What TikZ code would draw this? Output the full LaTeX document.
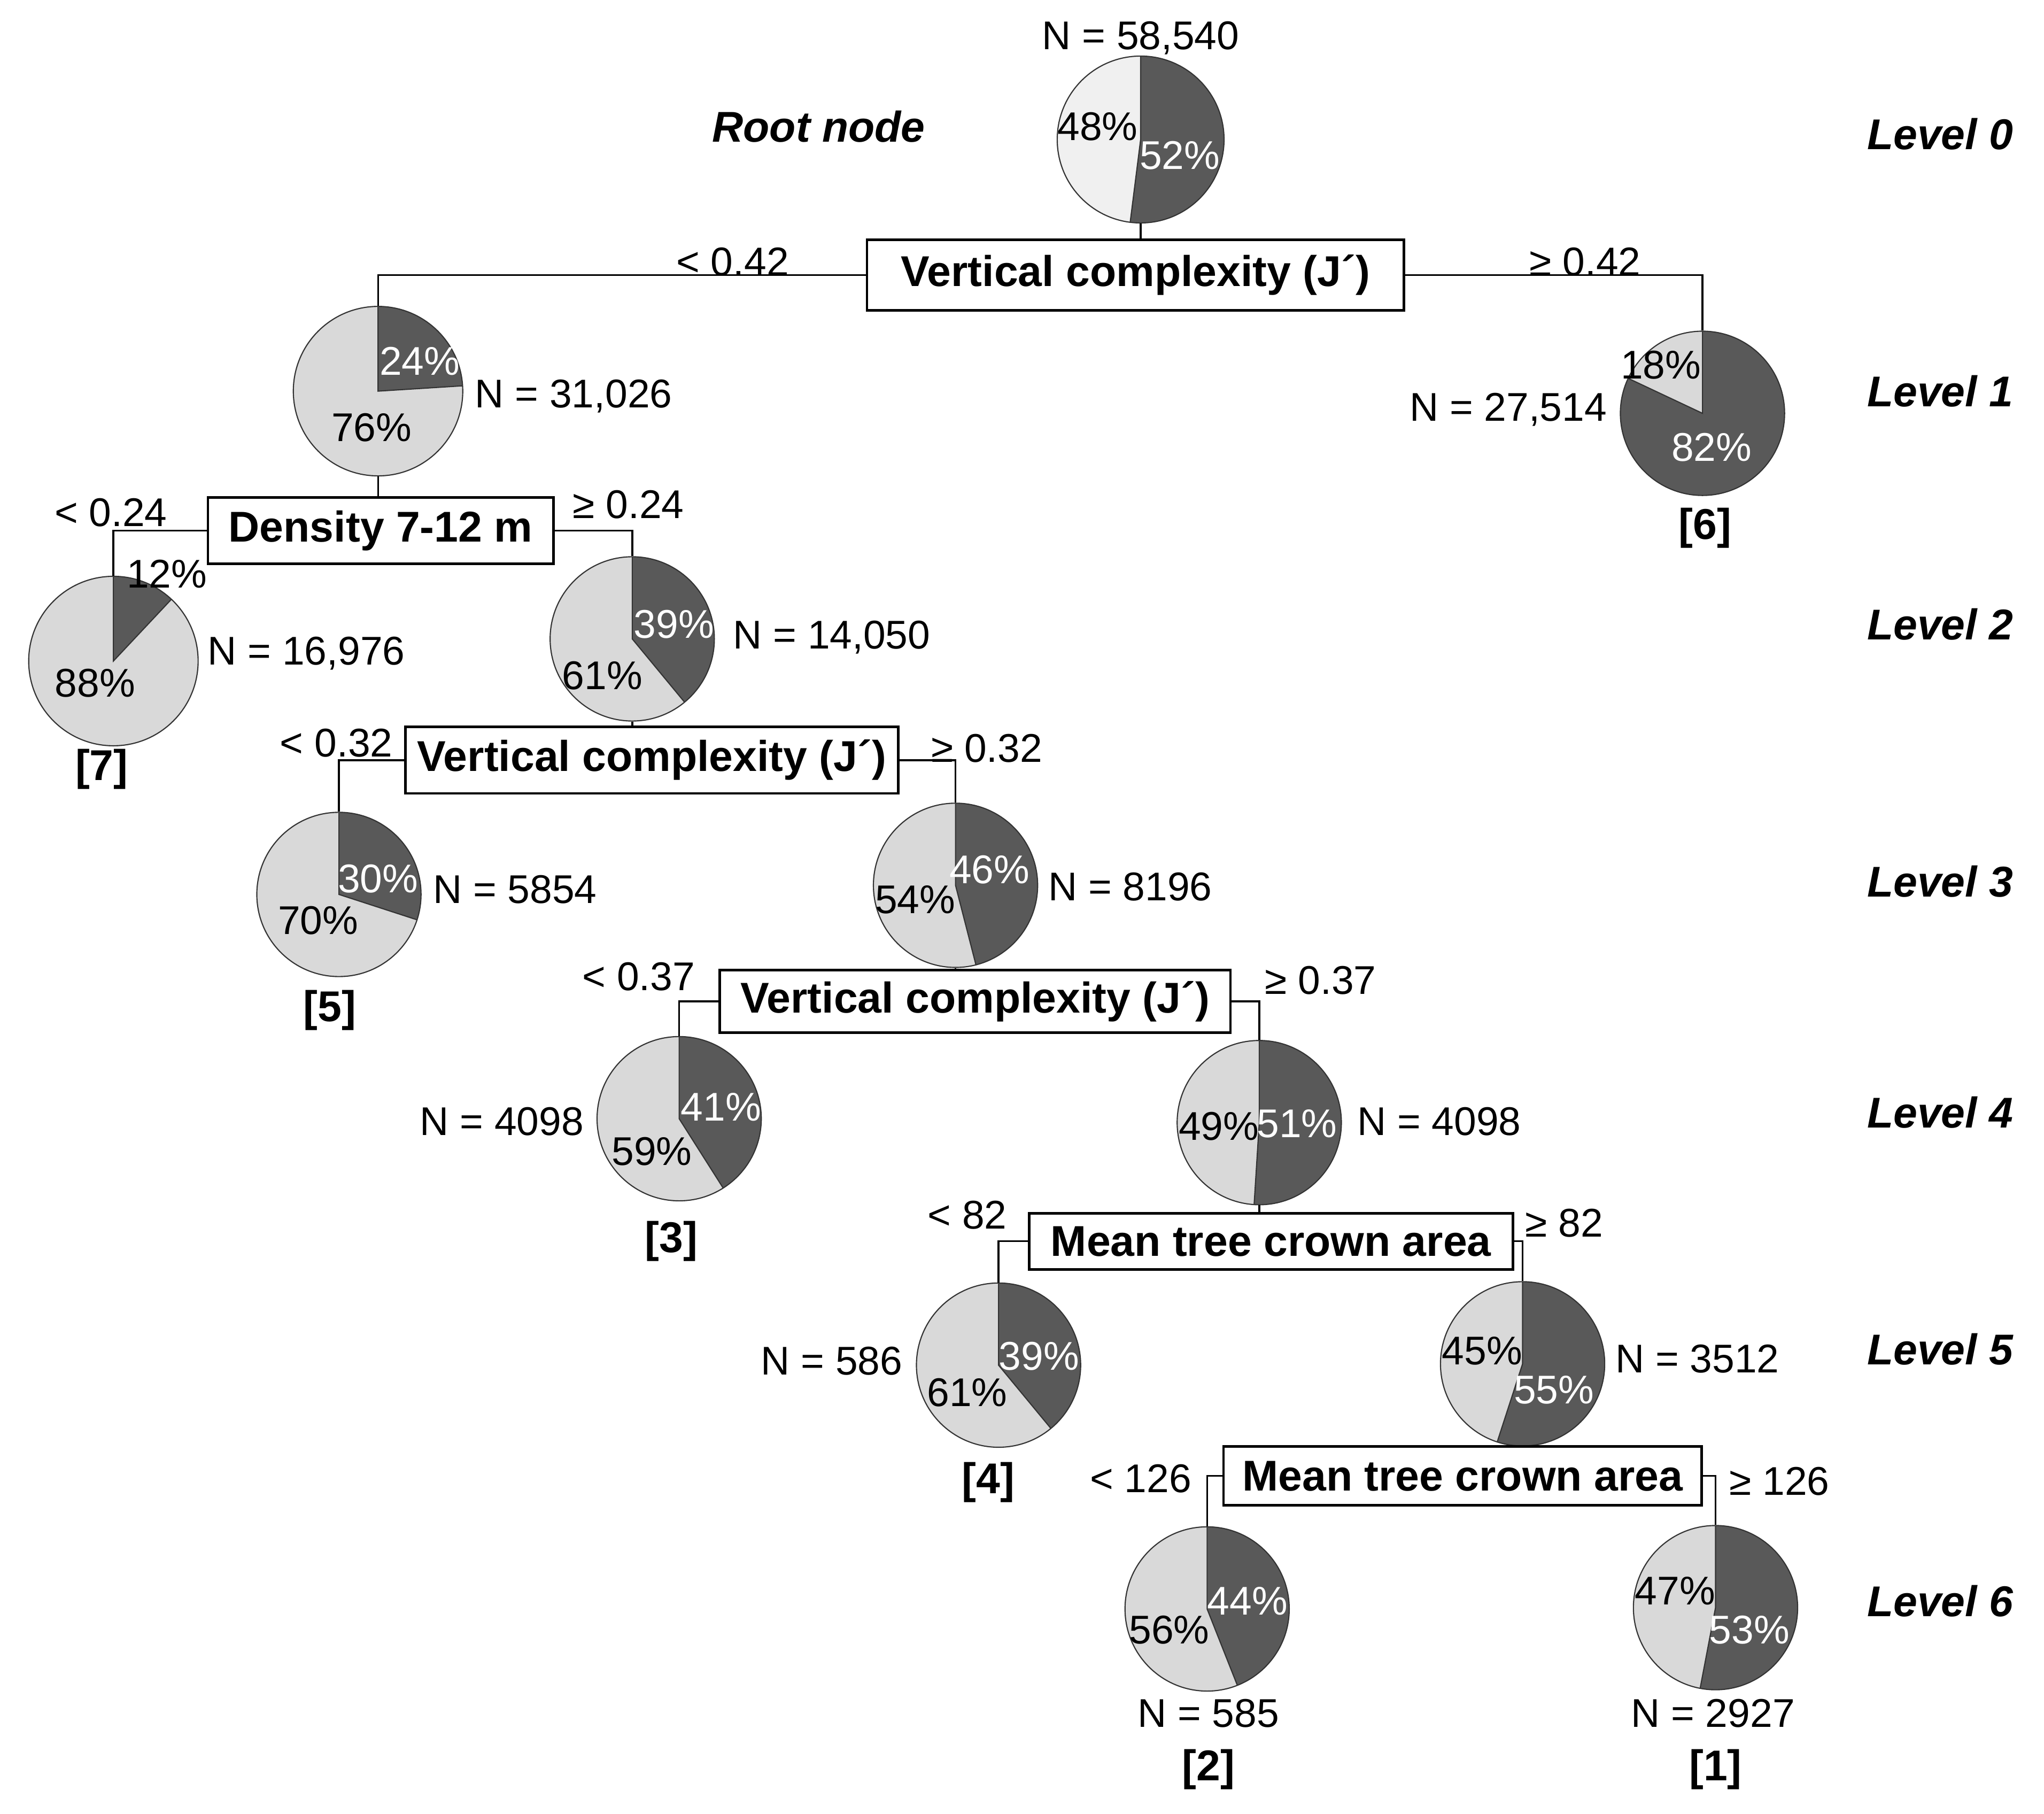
\documentclass[tikz,border=0pt]{standalone}
\usepackage{fontspec}
\setmainfont{Liberation Sans}
\usepackage{xcolor}
\definecolor{piedark}{HTML}{595959}
\definecolor{pielight}{HTML}{D9D9D9}
\definecolor{rootlight}{HTML}{F0F0F0}

\begin{document}
\begin{tikzpicture}[x=0.02cm, y=0.02cm]
    \tikzset{
        txt/.style={font=\fontsize{17.5}{20}\selectfont, inner sep=0pt},
        wtxt/.style={txt, text=white},
        bx/.style={draw, line width=1.1pt, font=\bfseries\fontsize{18.8}{22}\selectfont, minimum height=1.02cm, inner sep=0pt},
        leaf/.style={font=\bfseries\fontsize{18.8}{22}\selectfont, inner sep=0pt},
        lvl/.style={font=\bfseries\itshape\fontsize{18.8}{22}\selectfont, inner sep=0pt, anchor=east},
        pie/.style={circle, draw=black!80, line width=0.5pt, fill=pielight, minimum size=2.52cm, inner sep=0pt,
            path picture={\filldraw[fill=piedark, draw=black!80, line width=0.5pt] (path picture bounding box.center) -- ++(90:2cm)
                arc[start angle=90, end angle={90-3.6*#1}, radius=2cm] -- cycle;}},
        every path/.style={line width=0.8pt}
    }
    \useasboundingbox (0,0) rectangle (1568,-1391);

    % level 0
    \node[pie=52, fill=rootlight, minimum size=2.56cm] (p0) at (875,-107) {};
    \node[txt] (n0) at (875,-29) {N = 58,540};
    \node[txt] (p0a) at (842,-97) {48\%};
    \node[wtxt] (p0b) at (905,-119) {52\%};
    \node[leaf, font=\bfseries\itshape\fontsize{18.8}{22}\selectfont] (root) at (628,-97) {Root node};
    \node[bx, minimum width=8.24cm, minimum height=1.08cm] (b1) at (871,-211) {Vertical complexity (J´)};
    \draw (p0.south) -- (p0.south |- b1.north);

    % level 1
    \node[pie=24, minimum size=2.6cm] (p1) at (290,-300) {};
    \node[wtxt] (p1b) at (322,-277) {24\%};
    \node[txt] (p1a) at (285,-328) {76\%};
    \node[txt] (n1) at (440,-304) {N = 31,026};
    \node[pie=82] (p2) at (1306,-317) {};
    \node[txt] (p2a) at (1274,-280) {18\%};
    \node[wtxt] (p2b) at (1313,-343) {82\%};
    \node[txt] (n2) at (1157,-314) {N = 27,514};
    \node[leaf] (l6) at (1308,-405) {[6]};
    \node[txt] (t1a) at (562,-201) {< 0.42};
    \node[txt] (t1b) at (1216,-201) {≥ 0.42};
    \draw (b1.west) -| (p1.north);
    \draw (b1.east) -| (p2.north);

    \node[bx, minimum width=5.3cm] (b2) at (292,-407) {Density 7-12 m};
    \draw (p1.south) -- (p1.south |- b2.north);

    % level 2
    \node[pie=12, minimum size=2.6cm] (p3) at (87,-507) {};
    \node[txt] (p3b) at (128,-440) {12\%};
    \node[txt] (p3a) at (73,-524) {88\%};
    \node[txt] (n3) at (235,-501) {N = 16,976};
    \node[leaf] (l7) at (78,-590) {[7]};
    \node[pie=39] (p4) at (485,-490) {};
    \node[wtxt] (p4b) at (517,-479) {39\%};
    \node[txt] (p4a) at (462,-518) {61\%};
    \node[txt] (n4) at (638,-489) {N = 14,050};
    \node[txt] (t2a) at (85,-393) {< 0.24};
    \node[txt] (t2b) at (482,-387) {≥ 0.24};
    \draw (b2.west) -| (p3.north);
    \draw (b2.east) -| (p4.north);

    \node[bx, minimum width=7.56cm] (b3) at (500,-583) {Vertical complexity (J´)};
    \draw (p4.south) -- (p4.south |- b3.north);

    % level 3
    \node[pie=30] (p5) at (260,-686) {};
    \node[wtxt] (p5b) at (290,-674) {30\%};
    \node[txt] (p5a) at (244,-706) {70\%};
    \node[txt] (n5) at (395,-682) {N = 5854};
    \node[leaf] (l5) at (253,-775) {[5]};
    \node[pie=46] (p6) at (733,-679) {};
    \node[wtxt] (p6b) at (759,-667) {46\%};
    \node[txt] (p6a) at (702,-690) {54\%};
    \node[txt] (n6) at (867,-680) {N = 8196};
    \node[txt] (t3a) at (258,-570) {< 0.32};
    \node[txt] (t3b) at (757,-574) {≥ 0.32};
    \draw (b3.west) -| (p5.north);
    \draw (b3.east) -| (p6.north);

    \node[bx, minimum width=7.84cm, minimum height=0.96cm] (b4) at (748,-768) {Vertical complexity (J´)};
    \draw (p6.south) -- (p6.south |- b4.north);

    % level 4
    \node[pie=41] (p7) at (521,-858) {};
    \node[wtxt] (p7b) at (553,-849) {41\%};
    \node[txt] (p7a) at (500,-883) {59\%};
    \node[txt] (n7) at (385,-860) {N = 4098};
    \node[leaf] (l3) at (515,-952) {[3]};
    \node[pie=51] (p8) at (966,-861) {};
    \node[txt] (p8a) at (935,-864) {49\%};
    \node[wtxt] (p8b) at (995,-862) {51\%};
    \node[txt] (n8) at (1104,-860) {N = 4098};
    \node[txt] (t4a) at (490,-749) {< 0.37};
    \node[txt] (t4b) at (1013,-752) {≥ 0.37};
    \draw (b4.west) -| (p7.north);
    \draw (b4.east) -| (p8.north);

    \node[bx, minimum width=7.42cm, minimum height=0.86cm] (b5) at (975,-952) {Mean tree crown area};
    \draw (p8.south) -- (p8.south |- b5.north);

    % level 5
    \node[pie=39] (p9) at (766,-1047) {};
    \node[wtxt] (p9b) at (797,-1040) {39\%};
    \node[txt] (p9a) at (742,-1068) {61\%};
    \node[txt] (n9) at (638,-1044) {N = 586};
    \node[leaf] (l4) at (758,-1137) {[4]};
    \node[pie=55] (p10) at (1168,-1046) {};
    \node[txt] (p10a) at (1137,-1036) {45\%};
    \node[wtxt] (p10b) at (1192,-1066) {55\%};
    \node[txt] (n10) at (1302,-1042) {N = 3512};
    \node[txt] (t5a) at (742,-932) {< 82};
    \node[txt] (t5b) at (1200,-938) {≥ 82};
    \draw (b5.west) -| (p9.north);
    \draw (b5.east) -| (p10.north);

    \node[bx, minimum width=7.34cm, minimum height=0.9cm] (b6) at (1122,-1132) {Mean tree crown area};
    \draw (p10.south) -- (p10.south |- b6.north);

    % level 6
    \node[pie=44] (p11) at (926,-1234) {};
    \node[wtxt] (p11b) at (957,-1228) {44\%};
    \node[txt] (p11a) at (897,-1250) {56\%};
    \node[txt] (n11) at (927,-1314) {N = 585};
    \node[leaf] (l2) at (927,-1357) {[2]};
    \node[pie=53] (p12) at (1316,-1233) {};
    \node[txt] (p12a) at (1285,-1220) {47\%};
    \node[wtxt] (p12b) at (1342,-1250) {53\%};
    \node[txt] (n12) at (1314,-1314) {N = 2927};
    \node[leaf] (l1) at (1316,-1357) {[1]};
    \node[txt] (t6a) at (875,-1134) {< 126};
    \node[txt] (t6b) at (1365,-1136) {≥ 126};
    \draw (b6.west) -| (p11.north);
    \draw (b6.east) -| (p12.north);

    % levels
    \foreach \i/\y in {0/103,1/300,2/479,3/676,4/853,5/1035,6/1228}{
        \node[lvl] (lv\i) at (1545,-\y) {Level \i};
    }
\end{tikzpicture}
\end{document}
